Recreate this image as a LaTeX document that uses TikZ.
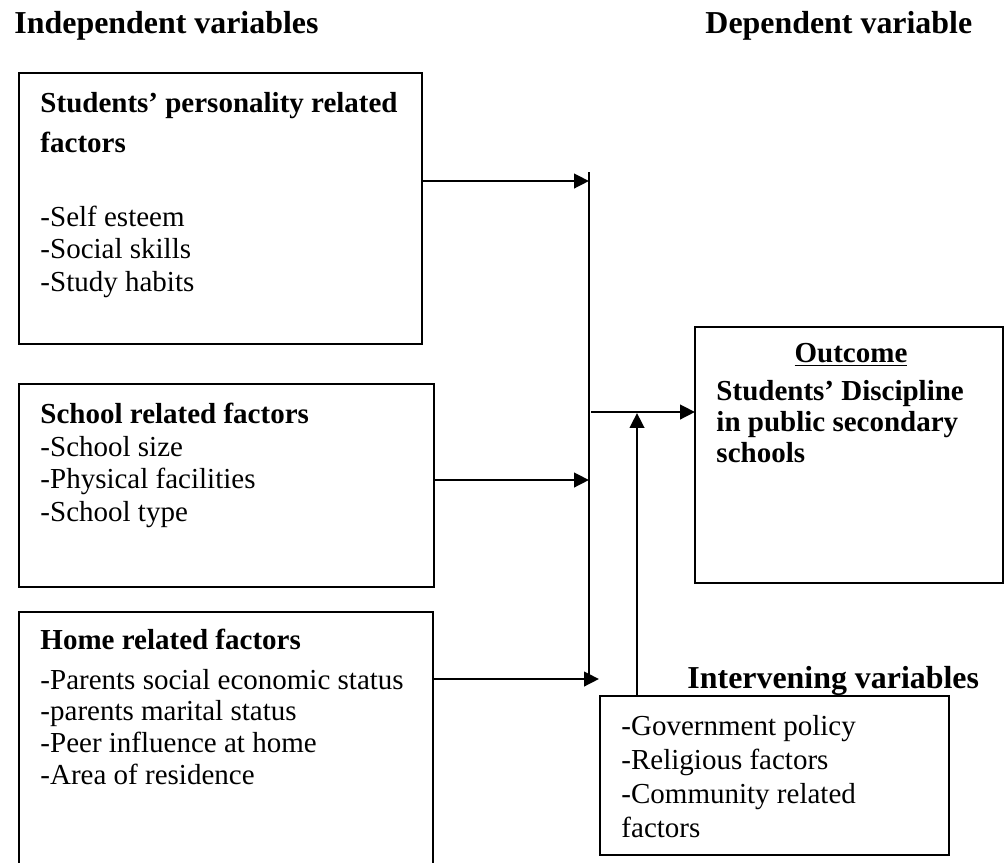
\documentclass[tikz,border=0pt]{standalone}
\usepackage{fontspec}
\setmainfont{Liberation Serif}
\usetikzlibrary{arrows.meta}
\newcommand{\mylines}[1]{\begin{tabular}[t]{@{}l@{}}#1\end{tabular}}
\tikzset{
  box/.style={draw=black, line width=0.9pt},
  conn/.style={line width=1.1pt},
  arr/.style={conn, -{Triangle[length=6.2pt,width=6pt]}},
  txt/.style={anchor=base west, inner sep=0pt, font=\fontsize{12}{13.6}\selectfont},
  btxt/.style={txt, font=\fontsize{12}{13.6}\selectfont\bfseries},
  hdr/.style={anchor=base west, inner sep=0pt, font=\fontsize{13.2}{15}\selectfont\bfseries},
}
\begin{document}
\begin{tikzpicture}[x=0.4138pt,y=-0.4138pt]
\useasboundingbox (0,0) rectangle (1005,862);
\begin{scope}
\clip (0,0) rectangle (1005,862);
% headers
\node[hdr] (hind) at (14,33) {Independent variables};
\node[hdr] (hdep) at (705,33) {Dependent variable};
% box 1
\draw[box] (19,73) rectangle (422,344);
\coordinate (b1r) at (422,181);
\node[btxt] (t1) at (40,112) {\mylines{Students' personality related\\[3pt]factors}};
\node[txt] (l1) at (40,226) {\mylines{-Self esteem\\-Social skills\\-Study habits}};
% box 2
\draw[box] (19,384) rectangle (434,587);
\coordinate (b2r) at (434,480);
\node[btxt] (t2) at (40,423) {School related factors};
\node[txt] (l2) at (40,456) {\mylines{-School size\\-Physical facilities\\-School type}};
% box 3
\draw[box] (19,880) -- (19,612) -- (433,612) -- (433,880);
\coordinate (b3r) at (433,679);
\node[btxt] (t3) at (40,649) {Home related factors};
\node[txt, font=\fontsize{12}{13.2}\selectfont] (l3) at (40,689) {\mylines{-Parents social economic status\\-parents marital status\\-Peer influence at home\\-Area of residence}};
% outcome box
\draw[box] (695,327) rectangle (1003,583);
\coordinate (outl) at (695,412);
\node[btxt, anchor=base] (toc) at (851,362) {\underline{Outcome}};
\node[btxt, font=\fontsize{12}{13}\selectfont\bfseries] (tout) at (716,400) {\mylines{Students' Discipline\\in public secondary\\schools}};
% intervening
\draw[box] (600,696) rectangle (949,855);
\coordinate (intt) at (637,696);
\node[hdr] (hint) at (687,688) {Intervening variables};
\node[txt, font=\fontsize{12}{14.1}\selectfont] (lint) at (621,735) {\mylines{-Government policy\\-Religious factors\\-Community related\\factors}};
% connectors
\coordinate (vtop) at (589,172);
\coordinate (vbot) at (589,675);
\draw[conn] (vtop) -- (vbot);
\coordinate (v1) at (589,181);
\coordinate (v2) at (589,480);
\coordinate (v3) at (599,679);
\draw[arr] (b1r) -- (v1);
\draw[arr] (b2r) -- (v2);
\draw[arr] (b3r) -- (v3);
\coordinate (vo) at (591,412);
\draw[arr] (vo) -- (outl);
\coordinate (up) at (637,413);
\draw[arr] (intt) -- (up);
\end{scope}
\end{tikzpicture}
\end{document}
